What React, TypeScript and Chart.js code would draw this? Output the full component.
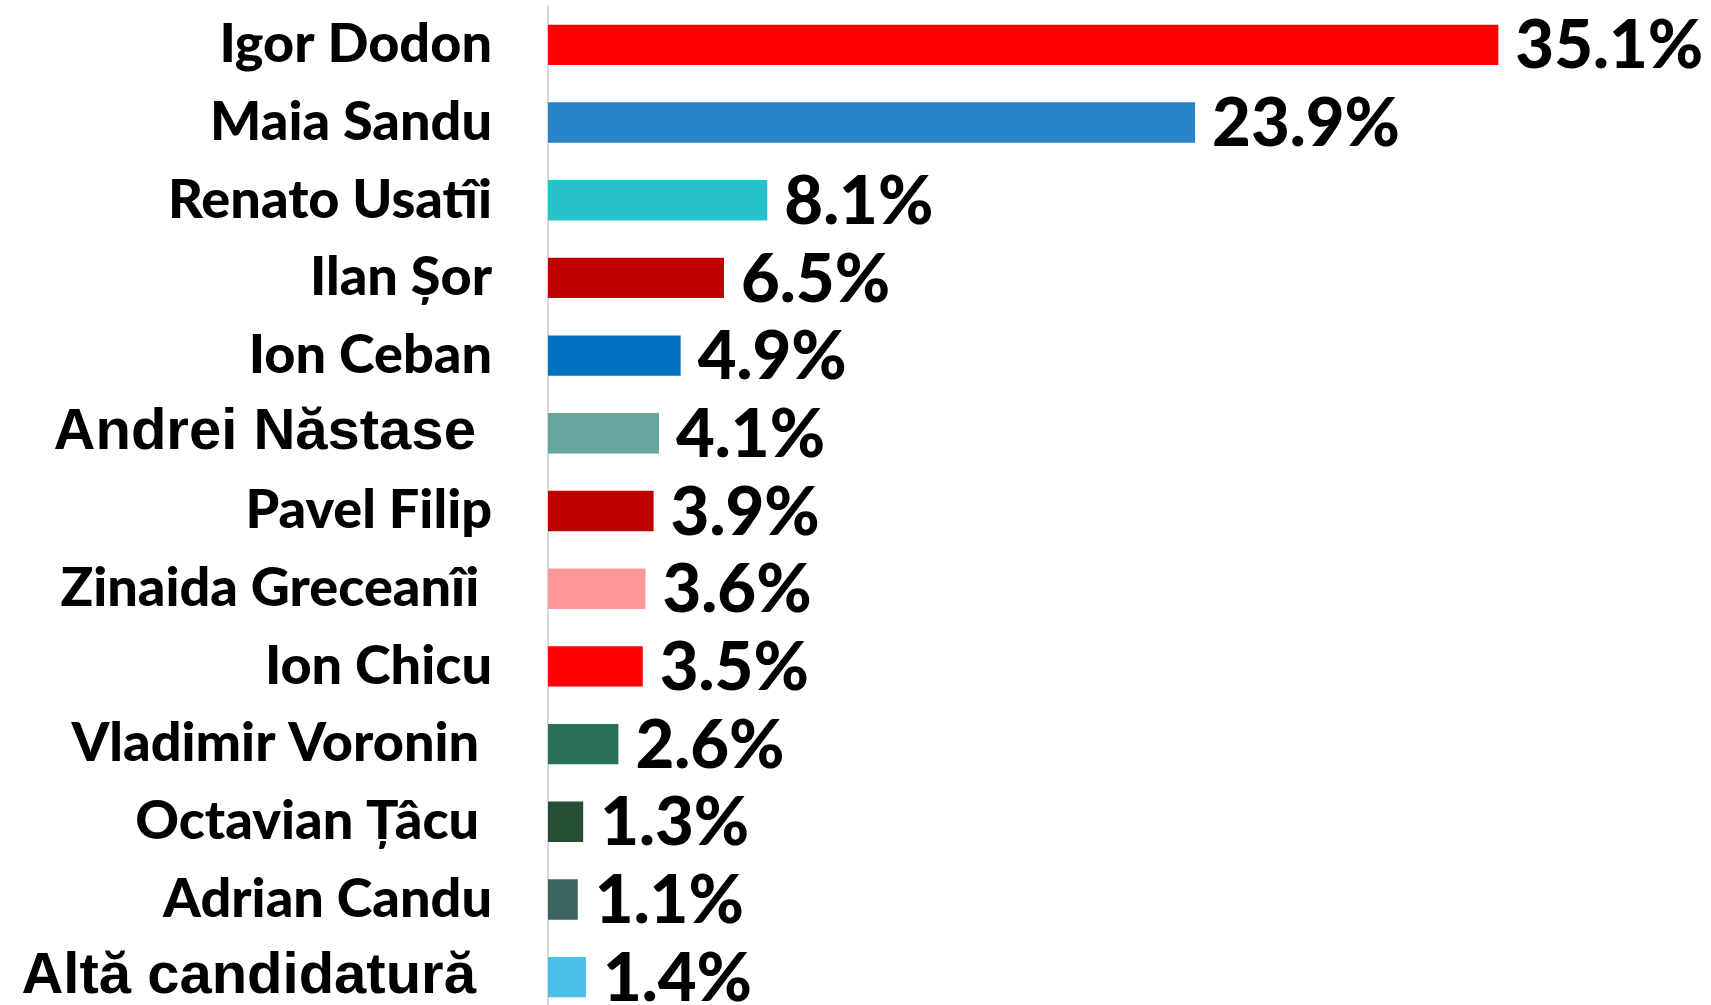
import React, { useEffect, useRef } from "react";
import { Chart, registerables } from "chart.js";

Chart.register(...registerables);

const candidates = [
  "Igor Dodon",
  "Maia Sandu",
  "Renato Usatîi",
  "Ilan Șor",
  "Ion Ceban",
  "Andrei Năstase ",
  "Pavel Filip",
  "Zinaida Greceanîi ",
  "Ion Chicu",
  "Vladimir Voronin ",
  "Octavian Țâcu ",
  "Adrian Candu",
  "Altă candidatură ",
];

const shares = [35.1, 23.9, 8.1, 6.5, 4.9, 4.1, 3.9, 3.6, 3.5, 2.6, 1.3, 1.1, 1.4];

const barColors = [
  "#FF0000",
  "#2883C7",
  "#26C4CA",
  "#C00000",
  "#0070C0",
  "#65A49F",
  "#C00000",
  "#FF9999",
  "#FF0000",
  "#287059",
  "#254F32",
  "#3B6360",
  "#4ABDE8",
];

// labels drawn in a different (Arial-like) typeface in the original
const altFontLabels = [5, 12];

const valueLabelPlugin = {
  id: "valueLabels",
  afterDatasetsDraw(chart: any) {
    const ctx = chart.ctx;
    const meta = chart.getDatasetMeta(0);
    ctx.save();
    ctx.fillStyle = "#000000";
    ctx.font = "900 67px Lato";
    ctx.textAlign = "left";
    ctx.textBaseline = "middle";
    meta.data.forEach((el: any, i: number) => {
      const v = chart.data.datasets[0].data[i] as number;
      ctx.fillText(`${v.toFixed(1)}%`, el.x + 17, el.y + 2);
    });
    ctx.restore();
  },
};

export default function App() {
  const canvasRef = useRef<HTMLCanvasElement | null>(null);

  useEffect(() => {
    if (!canvasRef.current) return;
    const chart = new Chart(canvasRef.current, {
      type: "bar",
      data: {
        labels: candidates,
        datasets: [
          {
            data: shares,
            backgroundColor: barColors,
            borderWidth: 0,
            barPercentage: 0.52,
            categoryPercentage: 1.0,
          },
        ],
      },
      options: {
        indexAxis: "y",
        responsive: false,
        animation: false,
        devicePixelRatio: 1,
        layout: { padding: { left: 0, right: 80, top: 6, bottom: 4 } },
        plugins: {
          legend: { display: false },
          tooltip: { enabled: false },
        },
        scales: {
          x: {
            display: false,
            min: 0,
            max: 40,
          },
          y: {
            afterFit: (scale: any) => {
              scale.width = 548;
              scale.paddingTop = 0;
              scale.paddingBottom = 0;
            },
            grid: { display: false, drawTicks: false, tickLength: 0 },
            border: { display: true, color: "#D9D9D9", width: 2 },
            ticks: {
              autoSkip: false,
              padding: 56,
              color: "#000000",
              font: (c: any) =>
                altFontLabels.includes(c.index)
                  ? { family: "Liberation Sans", weight: "bold", size: 58 }
                  : { family: "Lato", weight: 900, size: 54 },
            },
          },
        },
      },
      plugins: [valueLabelPlugin],
    });
    return () => chart.destroy();
  }, []);

  return (
    <div style={{ position: "absolute", left: 0, top: 0, width: 1711, height: 1020, background: "#fff" }}>
      <canvas ref={canvasRef} width={1711} height={1020} style={{ display: "block" }} />
    </div>
  );
}
